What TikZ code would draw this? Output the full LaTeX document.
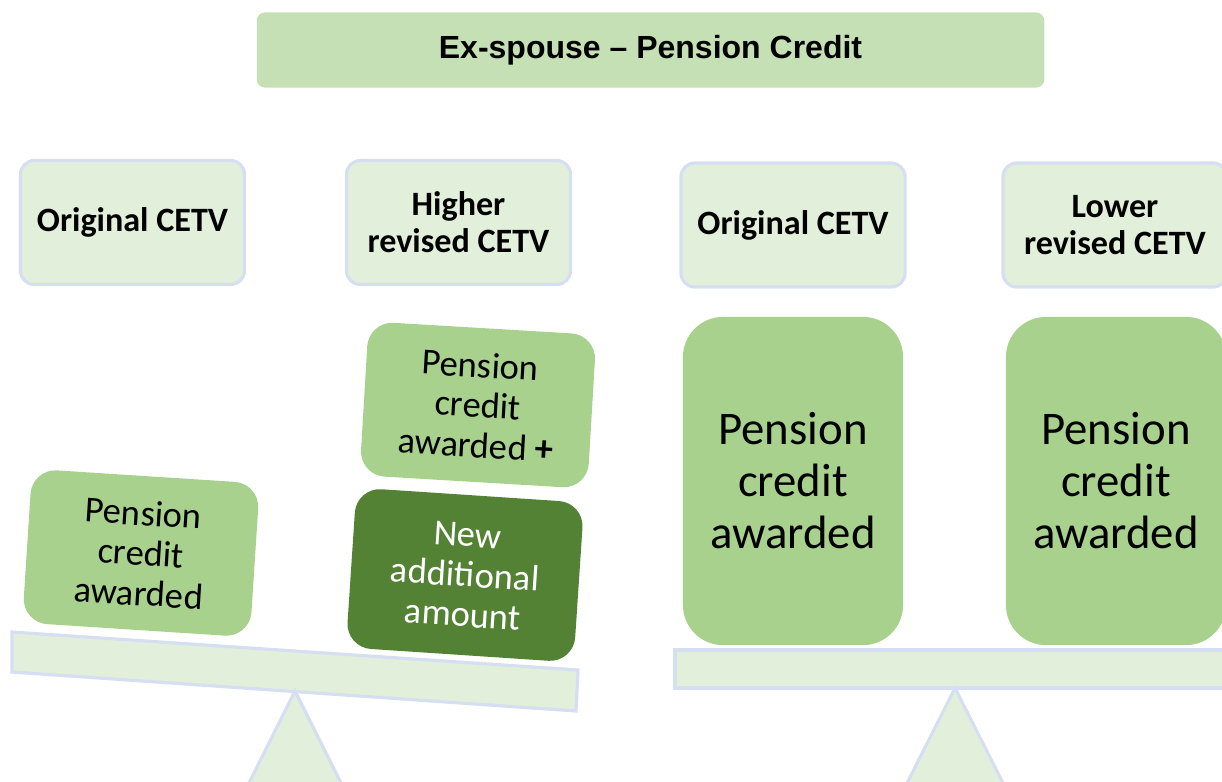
\documentclass[tikz,border=0pt]{standalone}
\usepackage{fontspec}
\setmainfont{Carlito}
\newfontfamily\titlefont[Ligatures=TeX]{Liberation Sans}
\usepackage{tikz}
\usetikzlibrary{positioning}
\usepackage{xcolor}
\definecolor{titlegreen}{HTML}{C5E0B4}
\definecolor{palegreen}{HTML}{E2EFDA}
\definecolor{midgreen}{HTML}{A9D18E}
\definecolor{darkgreen}{HTML}{548235}
\definecolor{edgeblue}{HTML}{D5DFF1}
\tikzset{
	cetv/.style={draw=edgeblue,line width=0.9pt,fill=palegreen,rounded corners=0.14cm,minimum width=2.24cm,minimum height=1.24cm,align=center,font=\fontsize{9.7}{10.6}\selectfont\bfseries},
	creditbox/.style={fill=midgreen,rounded corners=0.25cm,minimum width=2.28cm,minimum height=1.54cm,align=center,inner sep=0pt,font=\fontsize{10.4}{11.4}\selectfont},
	bigcredit/.style={fill=midgreen,rounded corners=0.4cm,minimum width=2.2cm,minimum height=3.28cm,align=center,font=\fontsize{13.3}{14.8}\selectfont},
	plank/.style={draw=edgeblue,line width=0.9pt,fill=palegreen}
}

\begin{document}
\begin{tikzpicture}[x=0.01cm,y=-0.01cm]
	\useasboundingbox (0,0) rectangle (1222,781);
	\clip (0,0) rectangle (1222,781);
	% title
	\node [fill=titlegreen,rounded corners=0.08cm,minimum width=7.87cm,minimum height=0.75cm,font=\titlefont\fontsize{9.1}{11}\selectfont\bfseries] (title) at (650.5,50) {Ex-spouse \textendash{} Pension Credit};
	% headers
	\node [cetv] (origL) at (132.5,222.5) {Original CETV};
	\node [cetv] (higher) at (458.5,222.5) {Higher\\revised CETV};
	\node [cetv] (origR) at (793,225) {Original CETV};
	\node [cetv] (lower) at (1115,225) {Lower\\revised CETV};
	% left scale: tipped
	\draw [plank] (12,632) -- (578,670) -- (576,711) -- (12,672) -- cycle;
	\draw [plank] (295,691) -- (350,801) -- (240,801) -- cycle;
	\node [creditbox,rotate=-3.7] (awardL) at (141,553) {Pension\\credit\\awarded};
	\node [creditbox,rotate=-3.4] (awardH) at (478,405) {Pension\\credit\\awarded \textbf{+}};
	\node [creditbox,rotate=-3.8,fill=darkgreen,text=white,minimum height=1.6cm] (extra) at (465,575) {New\\additional\\amount};
	% right scale: level
	\draw [plank] (675,650) rectangle (1240,688);
	\draw [plank] (955,688) -- (1012,801) -- (898,801) -- cycle;
	\node [bigcredit] (awardR) at (793,481) {Pension\\credit\\awarded};
	\node [bigcredit] (awardLo) at (1116,481) {Pension\\credit\\awarded};
\end{tikzpicture}
\end{document}
